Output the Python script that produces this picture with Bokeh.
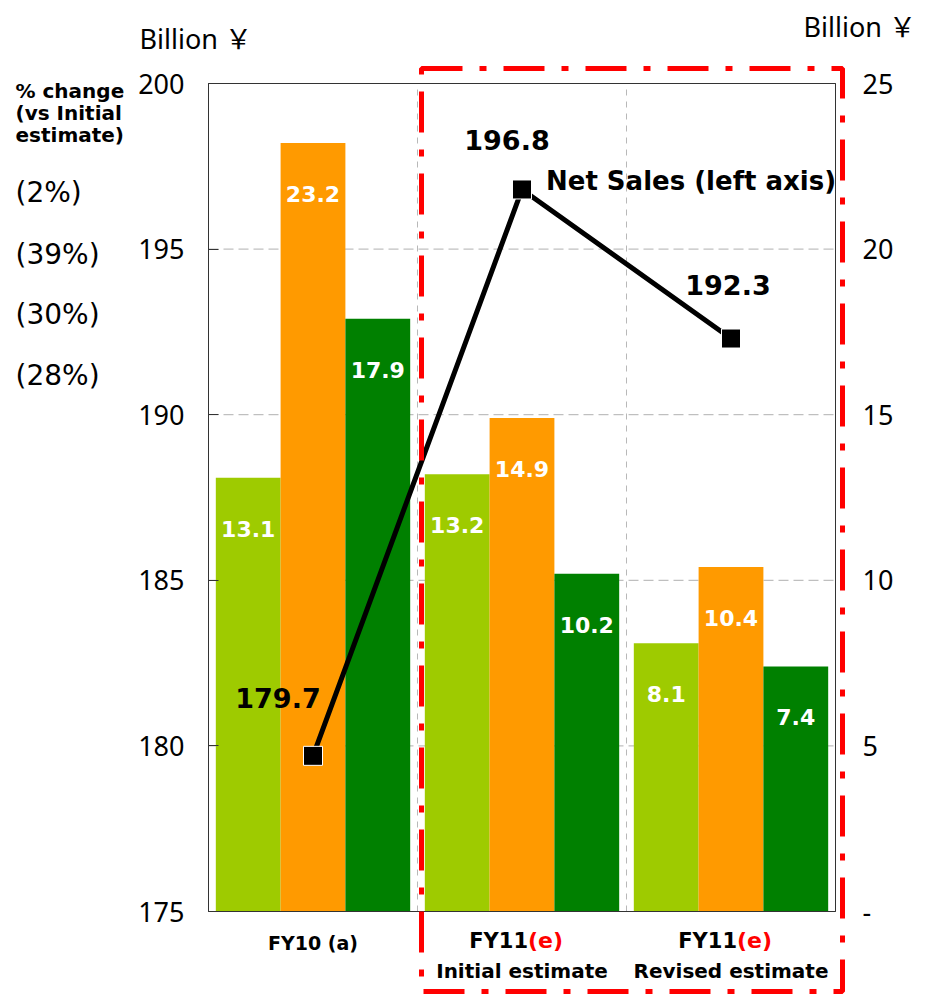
from bokeh.plotting import figure
from bokeh.models import Range1d, LinearAxis, FixedTicker, BoxAnnotation, ColumnDataSource
from bokeh.core.properties import value
from bokeh.embed import file_html
from bokeh.resources import INLINE

# ---------------- data ----------------
categories = ["FY10 (a)", "FY11(e)|Initial estimate", "FY11(e)|Revised estimate"]
seg_light = [13.1, 13.2, 8.1]      # light green bars (right axis)
seg_orange = [23.2, 14.9, 10.4]    # orange bars (right axis)
seg_dark = [17.9, 10.2, 7.4]       # dark green bars (right axis)
net_sales = [179.7, 196.8, 192.3]  # line (left axis)
pct_change = ["(2%)", "(39%)", "(30%)", "(28%)"]
pct_title = ["% change", "(vs Initial", "estimate)"]
left_ticks = [175, 180, 185, 190, 195, 200]
right_ticks = [0, 5, 10, 15, 20, 25]
unit_label = "Billion ￥"
line_label = "Net Sales (left axis)"

# ---------------- layout / styles ----------------
colors = ["#9ECB00", "#FF9A00", "#008000"]
BOLD = "DejaVu Sans"
REG = "Noto Sans, Noto Sans CJK JP"
W, H = 924, 995
FL, FR, FT, FB = 208, 835, 83, 911          # plot area in canvas pixels
XMIN, XMAX = 0, len(categories)
YMIN, YMAX = left_ticks[0], left_ticks[-1]
RMIN, RMAX = right_ticks[0], right_ticks[-1]
sx = (FR - FL) / (XMAX - XMIN)
sy = (FB - FT) / (YMAX - YMIN)
sr = (FB - FT) / (RMAX - RMIN)


def px2x(px):
    return XMIN + (px - FL) / sx


def px2y(py):
    return YMAX - (py - FT) / sy


p = figure(width=W, height=H,
           x_range=Range1d(XMIN - FL / sx, XMAX + (W - FR) / sx),
           y_range=Range1d(YMIN - (H - FB) / sy, YMAX + FT / sy),
           output_backend="svg", toolbar_location=None, min_border=0)
p.extra_y_ranges = {"right": Range1d(RMIN - (H - FB) / sr, RMAX + FT / sr)}
p.title.visible = False
p.outline_line_color = None
p.xaxis.visible = False
p.xgrid.visible = False
p.ygrid.visible = False

# gridlines (limited to plot area)
hg = [t for t in left_ticks[1:-1]]
p.segment(x0=[XMIN] * len(hg), x1=[XMAX] * len(hg), y0=hg, y1=hg,
          line_color="#b0b0b0", line_dash="10 5", line_width=1)
vg = list(range(XMIN + 1, XMAX))
p.segment(x0=vg, x1=vg, y0=[YMIN] * len(vg), y1=[YMAX] * len(vg),
          line_color="#b8b8b8", line_dash="6 6", line_width=1)

# left axis
ya = p.yaxis[0]
ya.fixed_location = XMIN
ya.bounds = (YMIN, YMAX)
ya.ticker = FixedTicker(ticks=left_ticks)
ya.minor_tick_line_color = None
ya.major_tick_in = 10
ya.major_tick_out = 0
ya.major_tick_line_color = "#333333"
ya.axis_line_color = "black"
ya.major_label_text_font = REG
ya.major_label_text_font_size = "27px"
ya.major_label_text_color = "black"
ya.major_label_standoff = 24

# right axis
ra = LinearAxis(y_range_name="right", ticker=FixedTicker(ticks=right_ticks),
                major_label_overrides={0: "-"}, fixed_location=XMAX, bounds=(RMIN, RMAX))
ra.minor_tick_line_color = None
ra.major_tick_line_color = None
ra.axis_line_color = "black"
ra.major_label_text_font = REG
ra.major_label_text_font_size = "27px"
ra.major_label_text_color = "black"
ra.major_label_standoff = 21
p.add_layout(ra, "right")

# bars
centers = [i + 0.5 for i in range(len(categories))]
offsets = [-0.31, 0.0, 0.31]
for k, (vals, col) in enumerate(zip([seg_light, seg_orange, seg_dark], colors)):
    xs = [c + offsets[k] for c in centers]
    src = ColumnDataSource(dict(x=xs, top=vals, label=[f"{v:.1f}" for v in vals]))
    p.vbar(x="x", top="top", bottom=RMIN, width=0.31, source=src, fill_color=col,
           line_color=None, y_range_name="right")
    p.text(x="x", y="top", text="label", source=src, y_range_name="right",
           text_color="white", text_font=value(BOLD), text_font_style="bold",
           text_font_size="22px", text_align="center", text_baseline="middle",
           y_offset=51, background_fill_color=col, padding=3)

# plot-area border
p.add_layout(BoxAnnotation(left=XMIN, right=XMAX, bottom=YMIN, top=YMAX,
                           fill_alpha=0, line_color="#333333", line_alpha=1, line_width=1))

# net sales line
p.line(centers, net_sales, line_width=5, line_color="black")
p.scatter(centers, net_sales, marker="square", size=19, fill_color="black",
          line_color="white", line_width=1)
sales_dx = [-35, -15, -3]
sales_dy = [-58, -49, -54]
ssrc = ColumnDataSource(dict(x=centers, y=net_sales, t=[f"{v:.1f}" for v in net_sales],
                             dx=sales_dx, dy=sales_dy))
p.text(x="x", y="y", text="t", source=ssrc, x_offset="dx", y_offset="dy",
       text_color="black", text_font=value(BOLD), text_font_style="bold",
       text_font_size="27px", text_align="center", text_baseline="middle")
p.text(x=[centers[1]], y=[net_sales[1]], text=[line_label], x_offset=24, y_offset=-8,
       text_color="black", text_font=value(BOLD), text_font_style="bold",
       text_font_size="26px", text_align="left", text_baseline="middle")

# red dash-dot box around FY11 groups
p.add_layout(BoxAnnotation(left=px2x(421), right=px2x(842), top=px2y(68), bottom=px2y(991),
                           fill_alpha=0, line_color="#FF0000", line_alpha=1, line_width=5,
                           line_dash="41 17 7 17"))

# category labels
for i, cat in enumerate(categories):
    if "|" in cat:
        first, second = cat.split("|")
        main, suffix = first[:-3], first[-3:]
        p.text(x=[centers[i]], y=[px2y(940)], text=[main], x_offset=6,
               text_align="right", text_baseline="middle", text_font=value(BOLD),
               text_font_style="bold", text_font_size="21px", text_color="black")
        p.text(x=[centers[i]], y=[px2y(940)], text=[suffix], x_offset=6,
               text_align="left", text_baseline="middle", text_font=value(BOLD),
               text_font_style="bold", text_font_size="22px", text_color="#FF0000")
        p.text(x=[centers[i]], y=[px2y(970)], text=[second],
               text_align="center", text_baseline="middle", text_font=value(BOLD),
               text_font_style="bold", text_font_size="20px", text_color="black")
    else:
        p.text(x=[centers[i]], y=[px2y(942)], text=[cat],
               text_align="center", text_baseline="middle", text_font=value(BOLD),
               text_font_style="bold", text_font_size="19px", text_color="black")

# unit labels
p.text(x=[px2x(139), px2x(803)], y=[px2y(38), px2y(26)], text=[unit_label, unit_label],
       text_align="left", text_baseline="middle", text_font=value(REG),
       text_font_size="27px", text_color="black")

# % change annotations
p.text(x=[px2x(15)] * len(pct_title), y=[px2y(v) for v in (90, 112, 134)], text=pct_title,
       text_align="left", text_baseline="middle", text_font=value(BOLD),
       text_font_style="bold", text_font_size="20px", text_color="black")
p.text(x=[px2x(15)] * len(pct_change), y=[px2y(v) for v in (192, 254, 314, 375)],
       text=pct_change, text_align="left", text_baseline="middle", text_font=value("DejaVu Sans"),
       text_font_size="28px", text_color="black")

open("out.html", "w").write(file_html(p, INLINE))
